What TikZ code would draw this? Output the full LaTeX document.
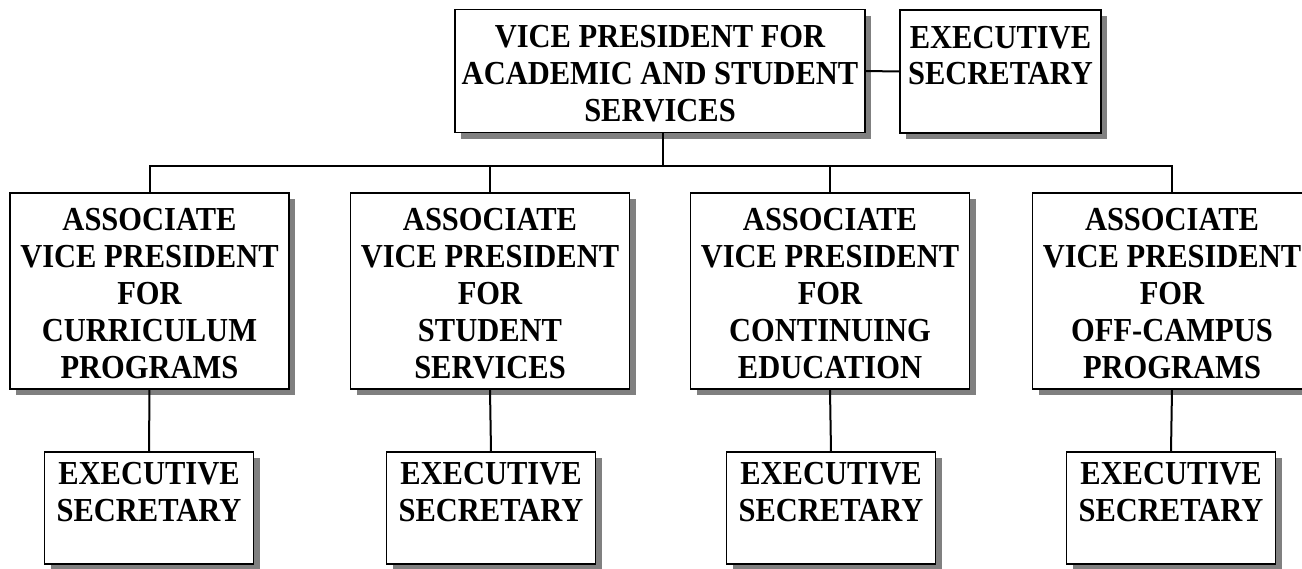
\documentclass[tikz,border=0pt]{standalone}
\usepackage{fontspec}
\usepackage{graphicx}
\setmainfont{Liberation Serif}
\usetikzlibrary{shadows}
\newcommand\boxtext[1]{\raisebox{-6pt}[\height][\depth]{\scalebox{1}[1.1]{\begin{tabular}{@{}c@{}}#1\end{tabular}}}}
\begin{document}
\begin{tikzpicture}[x=1pt,y=-1pt,
  box/.style={draw=black, line width=1.3pt, fill=white, align=center, inner sep=0pt,
    font=\bfseries\fontsize{30.5}{33.5}\selectfont,
    drop shadow={shadow xshift=6pt, shadow yshift=-6pt, fill=black!50, opacity=1}},
  topbox/.style={box, minimum width=410pt, minimum height=123pt},
  esbox/.style={box, minimum width=201pt, minimum height=123pt},
  avpbox/.style={box, minimum width=279pt, minimum height=196pt},
  secbox/.style={box, minimum width=209pt, minimum height=112pt},
  link/.style={line width=2pt, black}]
\useasboundingbox (0,0) rectangle (1302,568);
\node[topbox] (vp) at (660,71) {\boxtext{VICE PRESIDENT FOR\\ACADEMIC AND STUDENT\\SERVICES}};
\node[esbox] (es0) at (1000.5,71.5) {\boxtext{EXECUTIVE\\SECRETARY\\\mbox{}}};
\node[avpbox] (a1) at (149.5,291) {\boxtext{ASSOCIATE\\VICE PRESIDENT\\FOR\\CURRICULUM\\PROGRAMS}};
\node[avpbox] (a2) at (490,291) {\boxtext{ASSOCIATE\\VICE PRESIDENT\\FOR\\STUDENT\\SERVICES}};
\node[avpbox] (a3) at (830,291) {\boxtext{ASSOCIATE\\VICE PRESIDENT\\FOR\\CONTINUING\\EDUCATION}};
\node[avpbox] (a4) at (1172,291) {\boxtext{ASSOCIATE\\VICE PRESIDENT\\FOR\\OFF-CAMPUS\\PROGRAMS}};
\node[secbox] (s1) at (149,508) {\boxtext{EXECUTIVE\\SECRETARY\\\mbox{}}};
\node[secbox] (s2) at (491,508) {\boxtext{EXECUTIVE\\SECRETARY\\\mbox{}}};
\node[secbox] (s3) at (831,508) {\boxtext{EXECUTIVE\\SECRETARY\\\mbox{}}};
\node[secbox] (s4) at (1171,508) {\boxtext{EXECUTIVE\\SECRETARY\\\mbox{}}};
\draw[link] (vp.east) -- (es0.west);
\draw[link] ([xshift=3pt]vp.south) -- ++(0,33) coordinate (bus);
\foreach \n in {a1,a2,a3,a4} \draw[link] (\n.north) |- (bus);
\draw[link] (a1.south) -- (s1.north);
\draw[link] (a2.south) -- (s2.north);
\draw[link] (a3.south) -- (s3.north);
\draw[link] (a4.south) -- (s4.north);
\end{tikzpicture}
\end{document}
